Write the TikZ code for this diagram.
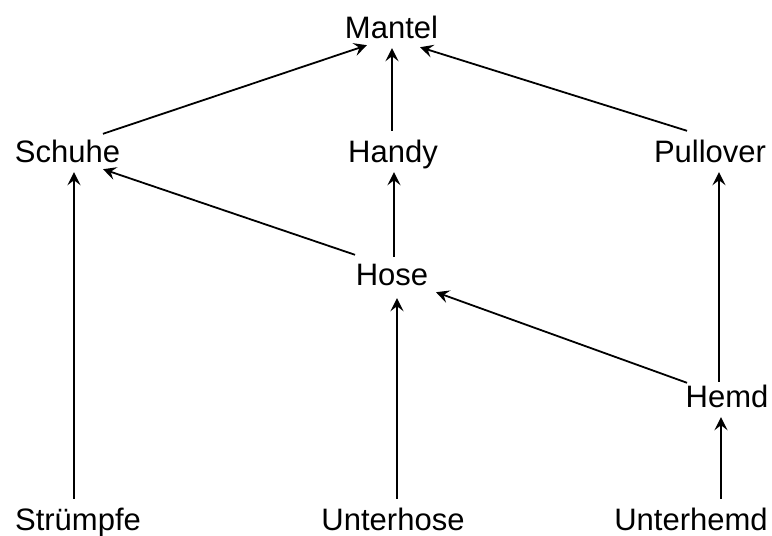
\documentclass[tikz,border=0pt]{standalone}
\usepackage{fontspec}
\setmainfont{Liberation Sans}
\usetikzlibrary{arrows.meta,calc}
\begin{document}
\begin{tikzpicture}[x=1pt,y=-1pt,
  lbl/.style={anchor=base, font=\fontsize{31}{37}\selectfont, inner xsep=3pt, inner ysep=4pt, text height=27pt, text depth=6pt},
  edge/.style={-{Stealth[length=13pt,width=13pt,inset=5pt]}, line width=1.8pt}]
\useasboundingbox (0,0) rectangle (772,536);
\node[lbl] (mantel) at (391.5,38) {Mantel};
\node[lbl] (schuhe) at (67.5,162) {Schuhe};
\node[lbl] (handy) at (393,162) {Handy};
\node[lbl] (pullover) at (710,162) {Pullover};
\node[lbl] (hose) at (392,285) {Hose};
\node[lbl] (hemd) at (727,407) {Hemd};
\node[lbl] (struempfe) at (78,530) {Strümpfe};
\node[lbl] (unterhose) at (393,530) {Unterhose};
\node[lbl] (unterhemd) at (691,530) {Unterhemd};
\draw[edge] ($(schuhe.north)+(35.5,3)$) -- ($(mantel.south)+(-24.5,-3)$);
\draw[edge] (handy.north -| 392,0) -- (mantel.south -| 392,0);
\draw[edge] ($(pullover.north)+(-23,0)$) -- ($(mantel.south)+(28.5,-1)$);
\draw[edge] ($(hose.north)+(2,3)$) -- (handy.south -| 394,0);
\draw[edge] ($(hose.north)+(-37,1)$) -- ($(schuhe.south)+(35.5,-3)$);
\draw[edge] (struempfe.north -| 74,0) -- (schuhe.south -| 74,0);
\draw[edge] (unterhose.north -| 397,0) -- ($(hose.south)+(5,3)$);
\draw[edge] ($(hemd.north)+(-40,7)$) -- ($(hose.south)+(44,-3)$);
\draw[edge] ($(hemd.north)+(-8,6)$) -- (pullover.south -| 719,0);
\draw[edge] (unterhemd.north -| 721,0) -- (hemd.south -| 721,0);
\end{tikzpicture}
\end{document}
